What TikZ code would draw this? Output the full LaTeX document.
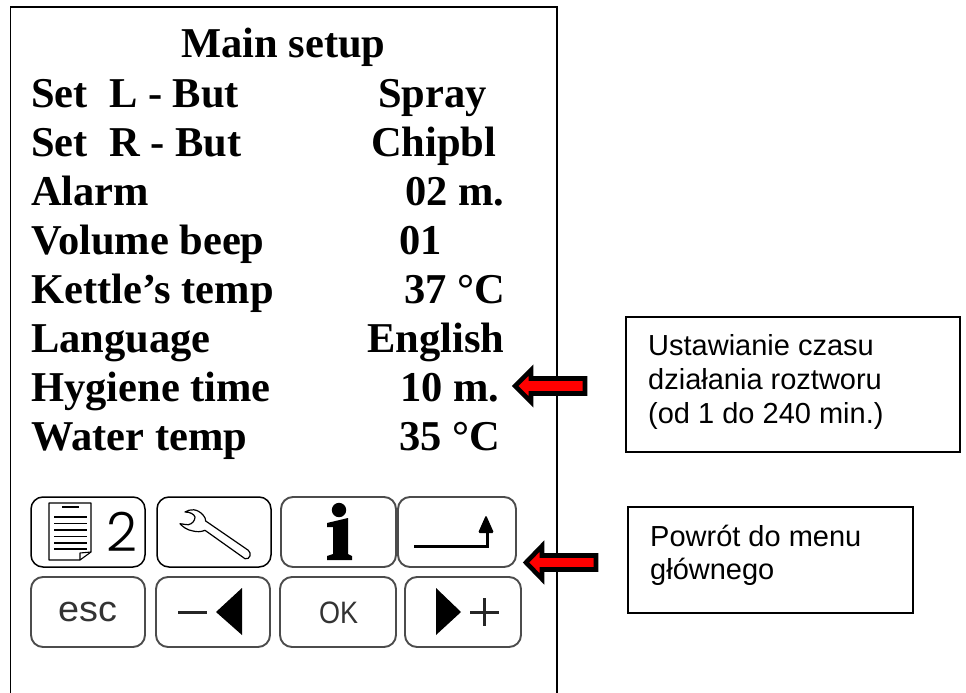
\documentclass[tikz,border=0pt]{standalone}
\usepackage{fontspec}
\setmainfont{Liberation Serif}
\setsansfont{Liberation Sans}
\newfontfamily\thindigit{Poppins Light}
\tikzset{
  item/.style={anchor=base west,inner sep=0pt,font=\rmfamily\bfseries\fontsize{42.5}{49}\selectfont},
  boxed/.style={draw=black,line width=1.8pt,fill=white},
  note/.style={anchor=base west,inner sep=0pt,font=\sffamily\fontsize{29}{34}\selectfont},
  btn/.style={draw=black!70,line width=1.9pt,rounded corners=12pt,fill=white,inner sep=0pt},
  btndark/.style={btn,draw=black,line width=1.5pt},
  redarrow/.style={draw=black,fill=red,line width=4.6pt,miter limit=10},
  icon/.style={draw=black,line width=1.2pt,line join=round},
  glyph/.style={inner sep=0pt,text=black!80,font=\sffamily}
}
\begin{document}
\begin{tikzpicture}[x=1pt,y=-1pt]
\useasboundingbox (0,0) rectangle (966,693);
\fill[white] (0,0) rectangle (966,693);
% main frame
\draw[black,line width=1.8pt] (10.5,693) -- (10.5,7) -- (557,7) -- (557,693);
% text
\node[item] (title) at (181,57) {Main setup};
\node[item] (l1) at (31,107) {Set\ \ L - But};
\node[item] (v1) at (378,107) {Spray};
\node[item] (l2) at (31,156) {Set\ \ R - But};
\node[item] (v2) at (371,156) {Chipbl};
\node[item] (l3) at (31,205) {Alarm};
\node[item] (v3) at (405,205) {02 m.};
\node[item] (l4) at (31,254) {Volume beep};
\node[item] (v4) at (399,254) {01};
\node[item] (l5) at (31,303) {Kettle’s temp};
\node[item] (v5) at (404,303) {37 °C};
\node[item] (l6) at (31,352) {Language};
\node[item] (v6) at (367,352) {English};
\node[item] (l7) at (31,401) {Hygiene time};
\node[item] (v7) at (400,401) {10 m.};
\node[item] (l8) at (31,450) {Water temp};
\node[item] (v8) at (399,450) {35 °C};
% buttons
\node[btndark,minimum width=114pt,minimum height=70pt] (bdoc) at (88,532) {};
\node[btndark,minimum width=114pt,minimum height=70pt] (bwrench) at (214,532) {};
\node[btn,minimum width=115pt,minimum height=70pt] (binfo) at (338.5,532) {};
\node[btn,minimum width=118pt,minimum height=70pt] (bret) at (457,532) {};
\node[btn,minimum width=114pt,minimum height=70pt] (besc) at (88,612) {};
\node[btn,minimum width=114pt,minimum height=70pt] (bminus) at (213,612) {};
\node[btn,minimum width=116pt,minimum height=70pt] (bok) at (338,612) {};
\node[btn,minimum width=116pt,minimum height=70pt] (bplus) at (463,612) {};
% document icon
\draw[icon,line width=1.1pt] (49,503) -- (91,503) -- (91,552) -- (80,560) -- (49,560) -- cycle;
\draw[icon,line width=1.1pt] (91,552) -- (80,553) -- (80,560);
\draw[icon,line width=1.1pt] (62,507) -- (79,507);
\foreach \yy in {517,523.5,530,536.5,543,549}{\draw[icon,line width=1.1pt] (54,\yy) -- (87,\yy);}
\node[anchor=base,inner sep=0pt,font=\thindigit\fontsize{54}{54}\selectfont] (two) at (122,551) {2};
% wrench
\draw[icon] (185,512) .. controls (190,509) and (197,508) .. (203.3,515.3) .. controls (205,517) and (205.5,519) .. (205.7,521)
  -- (248.3,550.3) .. controls (252,553) and (250,560) .. (245,558.7) -- (205,530.3)
  .. controls (201,532) and (197,532) .. (193,531) .. controls (187,530) and (183,527) .. (180,523.7)
  .. controls (184,524) and (186,525) .. (188.3,524.7) .. controls (192,524) and (195,521) .. (195,517) .. controls (194,514) and (190,512) .. (185,512) -- cycle;
% info icon
\fill[black] (339,510) circle (7.2pt);
\fill[black] (327,523) -- (348,518) -- (348,554) -- (352,556) -- (352,560) -- (327,560) -- (327,556) -- (333,554) -- (333,527) -- (327,527) -- cycle;
% return icon
\draw[black,line width=3pt] (414,546) -- (487,546) -- (487,530);
\fill[black,rounded corners=1.5pt] (486,515) -- (494,533) -- (478,533) -- cycle;
% esc / ok
\node[glyph,anchor=base,xscale=1.05,font=\sffamily\fontsize{36}{36}\selectfont] (esc) at (87.5,621) {esc};
\node[glyph,anchor=base,xscale=.87,font=\sffamily\fontsize{31}{31}\selectfont] (ok) at (338.5,623) {OK};
% minus and plus
\draw[black!85,line width=3pt] (178,612) -- (207,612);
\fill[black] (216,612) -- (242,588) -- (242,635) -- cycle;
\fill[black] (461,612) -- (436,588) -- (436,635) -- cycle;
\draw[black!85,line width=3pt] (470,612) -- (499,612) (484,598) -- (484,626);
% notes
\node[boxed,minimum width=334pt,minimum height=135pt,inner sep=0pt] (nbox) at (793,384.5) {};
\node[note] (n1) at (648,355) {Ustawianie czasu};
\node[note] (n2) at (648,389) {działania roztworu};
\node[note] (n3) at (648,423) {(od 1 do 240 min.)};
\node[boxed,minimum width=285pt,minimum height=106pt,inner sep=0pt] (rbox) at (770.5,560) {};
\node[note] (r1) at (650,546) {Powrót do menu};
\node[note] (r2) at (650,579) {głównego};
% arrows
\draw[redarrow] (515,386) -- (531,370) -- (531,378.5) -- (585,378.5) -- (585,393.5) -- (531,393.5) -- (531,402) -- cycle;
\draw[redarrow] (526,562.5) -- (542,546) -- (542,555.5) -- (596,555.5) -- (596,569.5) -- (542,569.5) -- (542,579) -- cycle;
\end{tikzpicture}
\end{document}
